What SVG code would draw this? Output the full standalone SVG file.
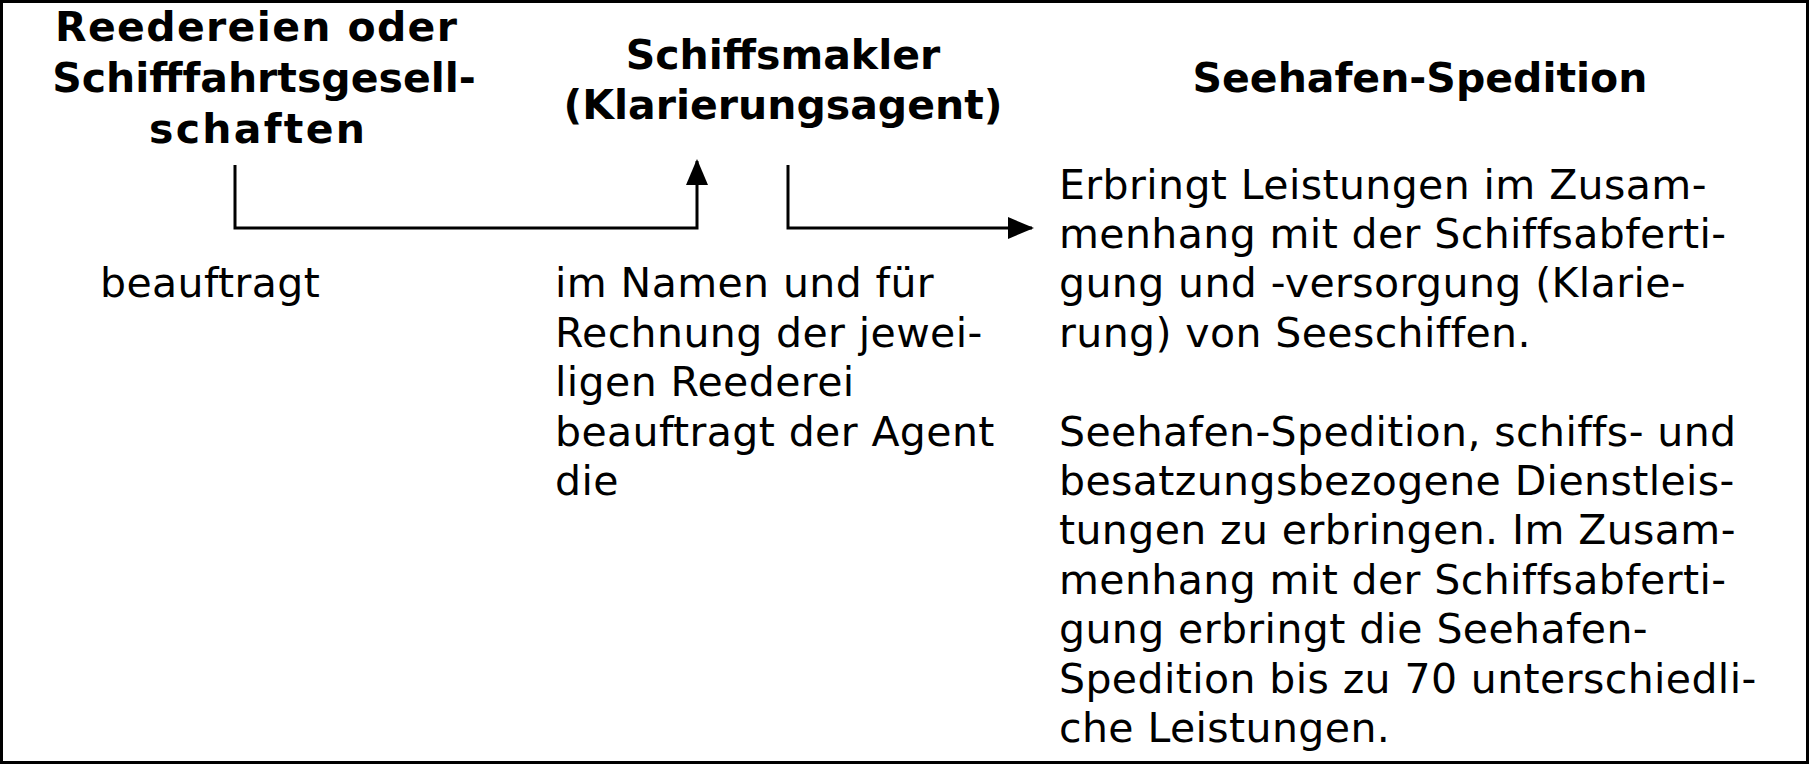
<svg xmlns="http://www.w3.org/2000/svg" width="1809" height="764" viewBox="0 0 1809 764">
<style>
.h{font-family:"DejaVu Sans",Verdana,sans-serif;font-weight:bold;font-size:41px;fill:#000;text-anchor:middle}
.b{font-family:"DejaVu Sans",Verdana,sans-serif;font-size:41px;letter-spacing:0.4px;fill:#000}
.c{fill:none;stroke:#000;stroke-width:3}
</style>
<defs>
<marker id="ah" markerWidth="26" markerHeight="22" refX="24" refY="11" orient="auto" markerUnits="userSpaceOnUse">
<path d="M0,0 L26,11 L0,22 z" fill="#000"/>
</marker>
</defs>
<rect x="1.5" y="1.5" width="1806" height="761" fill="#fff" stroke="#000" stroke-width="3"/>
<g id="node-reedereien">
<text class="h" x="256" y="41" textLength="402" lengthAdjust="spacing">Reedereien oder</text>
<text class="h" x="264" y="92">Schifffahrtsgesell-</text>
<text class="h" x="257" y="143" textLength="216" lengthAdjust="spacing">schaften</text>
</g>
<g id="node-schiffsmakler">
<text class="h" x="783" y="69">Schiffsmakler</text>
<text class="h" x="783" y="119">(Klarierungsagent)</text>
</g>
<g id="node-seehafen">
<text class="h" x="1420" y="92">Seehafen-Spedition</text>
</g>
<g id="label-beauftragt">
<text class="b" x="100" y="297">beauftragt</text>
</g>
<g id="label-agent">
<text class="b" x="555" y="297">im Namen und für</text>
<text class="b" x="555" y="346.5">Rechnung der jewei-</text>
<text class="b" x="555" y="396">ligen Reederei</text>
<text class="b" x="555" y="445.5">beauftragt der Agent</text>
<text class="b" x="555" y="495">die</text>
</g>
<g id="label-seehafen">
<text class="b" x="1059" y="198.5">Erbringt Leistungen im Zusam-</text>
<text class="b" x="1059" y="248">menhang mit der Schiffsabferti-</text>
<text class="b" x="1059" y="297">gung und -versorgung (Klarie-</text>
<text class="b" x="1059" y="346.5">rung) von Seeschiffen.</text>
<text class="b" x="1059" y="445.5">Seehafen-Spedition, schiffs- und</text>
<text class="b" x="1059" y="495">besatzungsbezogene Dienstleis-</text>
<text class="b" x="1059" y="544">tungen zu erbringen. Im Zusam-</text>
<text class="b" x="1059" y="593.5">menhang mit der Schiffsabferti-</text>
<text class="b" x="1059" y="643">gung erbringt die Seehafen-</text>
<text class="b" x="1059" y="692.5">Spedition bis zu 70 unterschiedli-</text>
<text class="b" x="1059" y="742">che Leistungen.</text>
</g>
<g id="connectors">
<path class="c" d="M235,165 V228 H697 V161" marker-end="url(#ah)"/>
<path class="c" d="M788,165 V228 H1032" marker-end="url(#ah)"/>
</g>
</svg>
